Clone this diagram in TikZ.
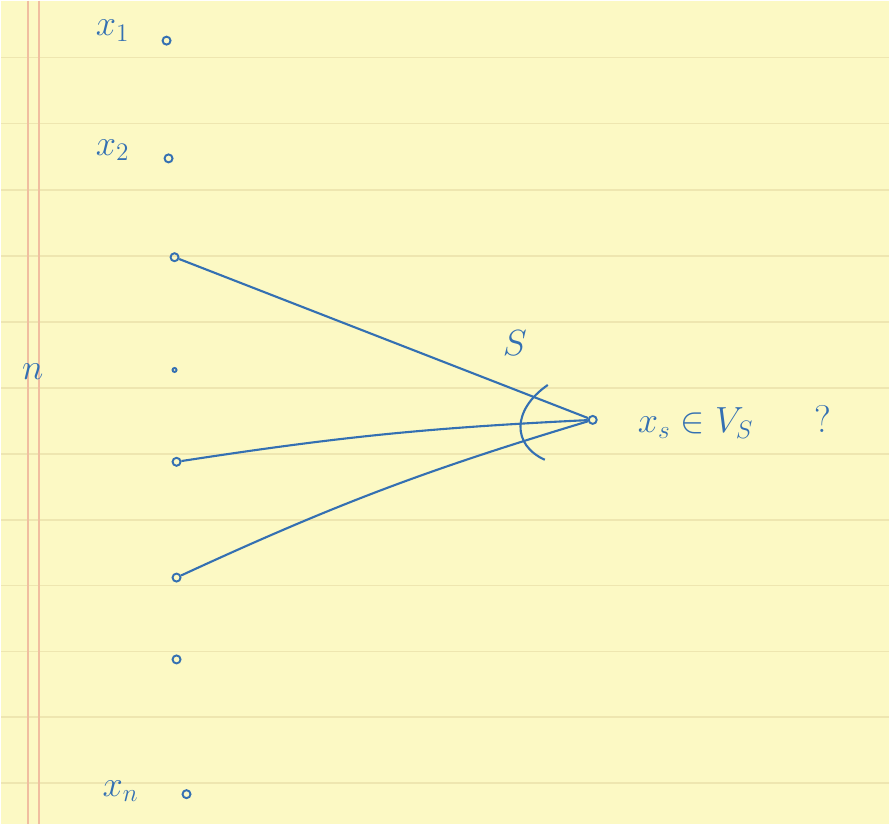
\documentclass[tikz,border=0pt]{standalone}
\usepackage{tikz}
\definecolor{paper}{RGB}{252,249,196}
\definecolor{ruleline}{RGB}{238,230,176}
\definecolor{margin}{RGB}{240,190,160}
\definecolor{ink}{RGB}{52,112,178}
\begin{document}
\begin{tikzpicture}[
        x=0.02cm, y=-0.02cm,
        vert/.style={circle, draw=ink, line width=1.1pt, inner sep=0pt, minimum size=1.6mm},
        tick/.style={circle, draw=ink, line width=1.1pt, inner sep=0pt, minimum size=0.8mm},
        lbl/.style={text=ink, font=\fontsize{22}{26}\selectfont},
        edge/.style={ink, line width=1.2pt}
      ]
      % paper
      \fill[paper] (0,0) rectangle (890,825);
      \foreach \y in {57,123,190,256,322,388,454,520,586,652,718,784}
        \draw[ruleline, line width=1pt] (0,\y) -- (890,\y);
      \draw[margin, line width=0.8pt] (27,0) -- (27,825);
      \draw[margin, line width=0.8pt] (38,0) -- (38,825);
      % vertices
      \node[vert] (x1) at (166,40) {};
      \node[vert] (x2) at (168,158) {};
      \node[vert] (a) at (174,257) {};
      \node[tick] (b) at (174,370) {};
      \node[vert] (c) at (176,462) {};
      \node[vert] (d) at (176,578) {};
      \node[vert] (e) at (176,660) {};
      \node[vert] (xn) at (186,795) {};
      \node[vert] (t) at (593,420) {};
      % labels
      \node[lbl] (l1) at (112,30) {$x_1$};
      \node[lbl] (l2) at (112,150) {$x_2$};
      \node[lbl] (ln) at (120,792) {$x_n$};
      \node[lbl] (n) at (32,372) {$n$};
      \node[lbl] (s) at (515,343) {$S$};
      \node[lbl, anchor=west] (q) at (632,422) {$x_s \in V_S$\hspace{35pt}?};
      % edges
      \draw[edge] (a) -- (t);
      \draw[edge] (c) to[bend left=3] (t);
      \draw[edge] (d) to[bend left=4] (t);
      \draw[edge] (548,385) .. controls (512,410) and (512,445) .. (545,460);
    \end{tikzpicture}
\end{document}
